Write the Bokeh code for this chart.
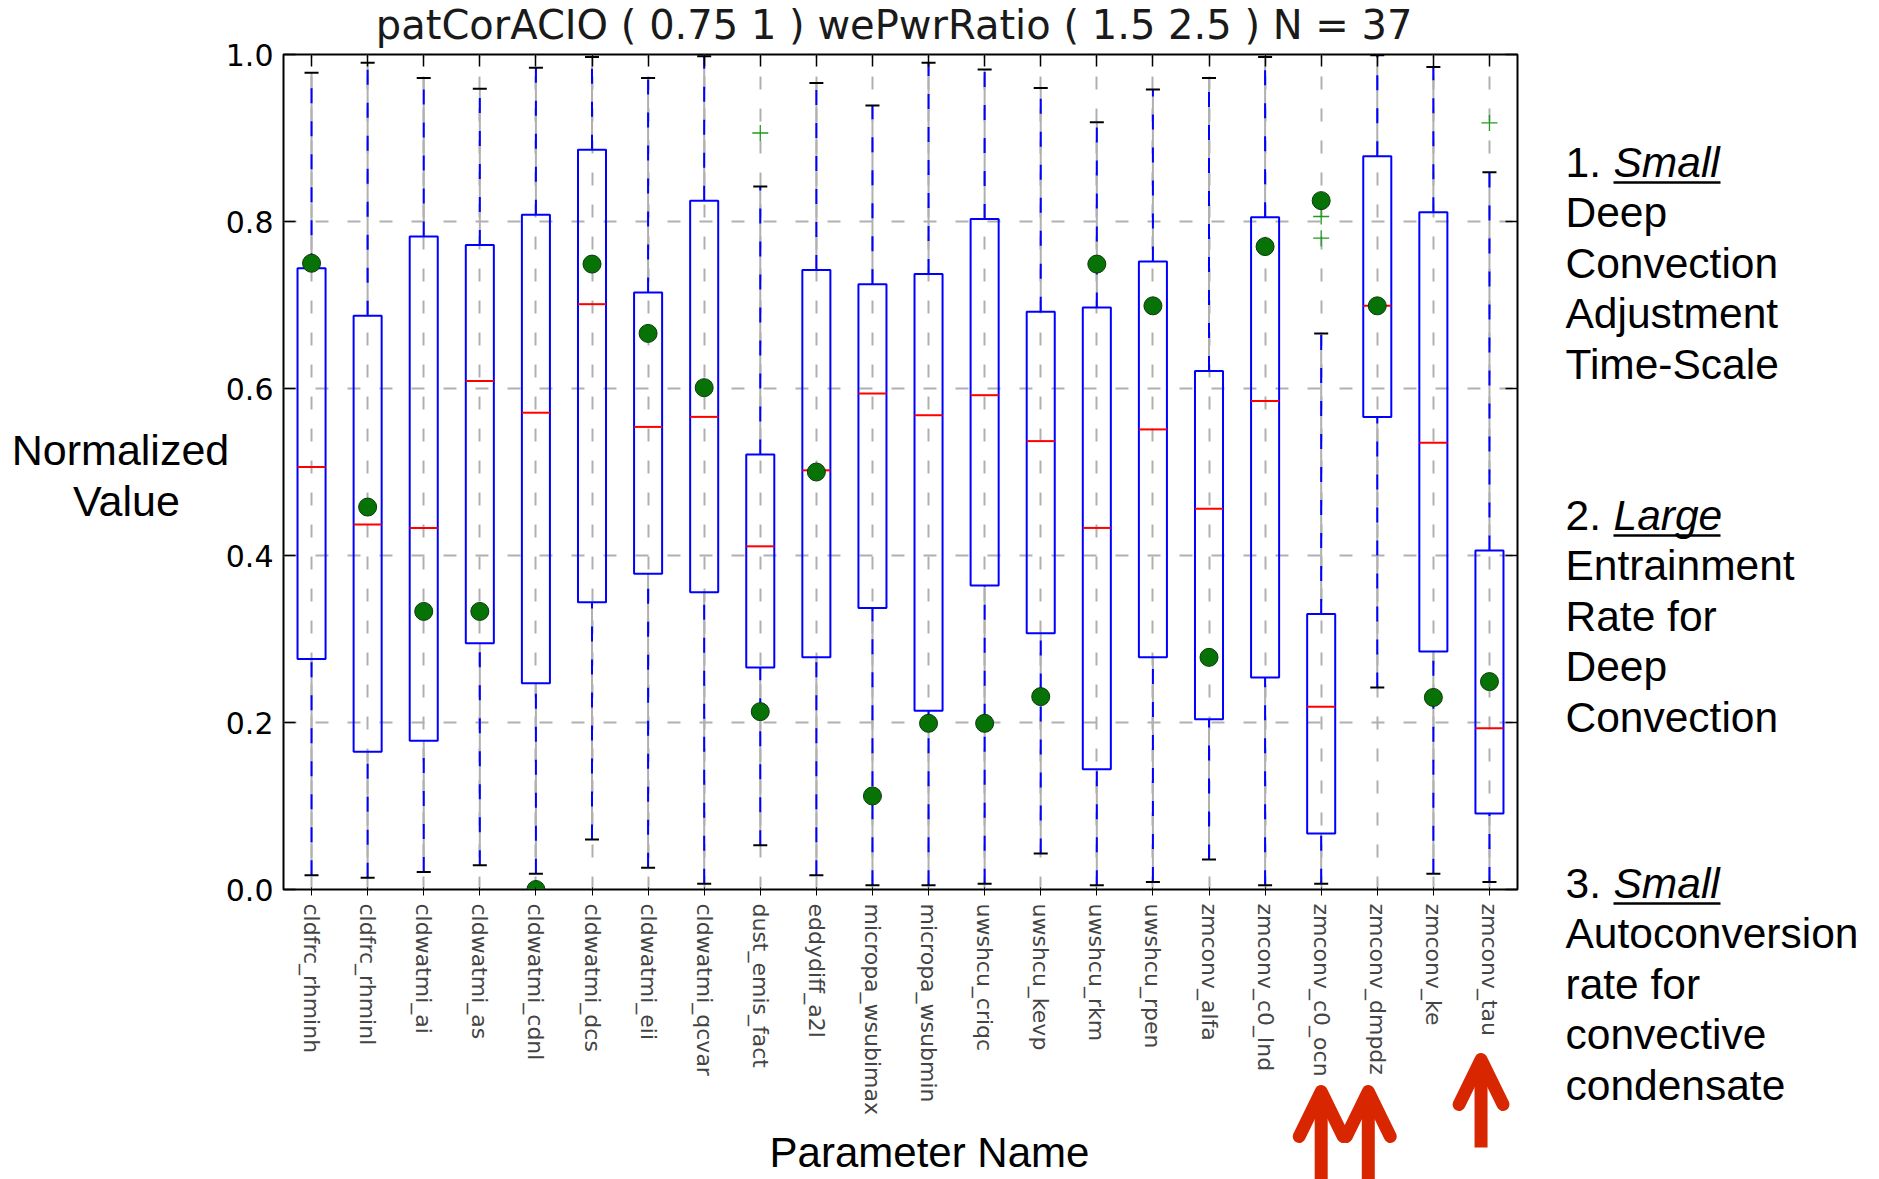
from bokeh.plotting import figure
from bokeh.models import (Range1d, FixedTicker, LinearAxis, PrintfTickFormatter,
                          ColumnDataSource, GridBox, CustomLabelingPolicy)
from bokeh.core.properties import value
from bokeh.embed import file_html
from bokeh.resources import INLINE

# ---- data -----------------------------------------------------------------
params = ["cldfrc_rhminh", "cldfrc_rhminl", "cldwatmi_ai", "cldwatmi_as",
          "cldwatmi_cdnl", "cldwatmi_dcs", "cldwatmi_eii", "cldwatmi_qcvar",
          "dust_emis_fact", "eddydiff_a2l", "micropa_wsubimax", "micropa_wsubmin",
          "uwshcu_criqc", "uwshcu_kevp", "uwshcu_rkm", "uwshcu_rpen",
          "zmconv_alfa", "zmconv_c0_lnd", "zmconv_c0_ocn", "zmconv_dmpdz",
          "zmconv_ke", "zmconv_tau"]

whisker_lo = [0.017, 0.014, 0.021, 0.029, 0.019, 0.060, 0.026, 0.007, 0.053, 0.017, 0.005,
              0.005, 0.007, 0.043, 0.005, 0.009, 0.036, 0.005, 0.007, 0.242, 0.019, 0.009]
q1 = [0.276, 0.165, 0.178, 0.295, 0.247, 0.344, 0.378, 0.356, 0.266, 0.278, 0.337,
      0.214, 0.364, 0.307, 0.144, 0.278, 0.204, 0.254, 0.067, 0.566, 0.285, 0.091]
median = [0.506, 0.437, 0.433, 0.609, 0.571, 0.701, 0.554, 0.566, 0.411, 0.502, 0.594,
          0.568, 0.592, 0.537, 0.433, 0.551, 0.456, 0.585, 0.219, 0.699, 0.535, 0.193]
q3 = [0.744, 0.687, 0.782, 0.772, 0.808, 0.886, 0.715, 0.825, 0.521, 0.742, 0.725,
      0.737, 0.803, 0.692, 0.697, 0.752, 0.621, 0.805, 0.330, 0.878, 0.811, 0.406]
whisker_hi = [0.978, 0.990, 0.972, 0.959, 0.984, 0.997, 0.972, 0.998, 0.842, 0.966, 0.939,
              0.990, 0.982, 0.960, 0.919, 0.958, 0.972, 0.997, 0.666, 0.999, 0.985, 0.859]
# normalized value of the selected member
chosen = [0.750, 0.458, 0.333, 0.333, 0.000, 0.749, 0.666, 0.601, 0.213, 0.500, 0.112,
          0.199, 0.199, 0.231, 0.749, 0.699, 0.278, 0.770, 0.825, 0.699, 0.230, 0.249]
# outliers: (parameter, value)
flier_param = ["dust_emis_fact", "zmconv_c0_ocn", "zmconv_c0_ocn", "zmconv_tau"]
flier_value = [0.906, 0.806, 0.780, 0.918]

y_ticks = [0.0, 0.2, 0.4, 0.6, 0.8, 1.0]

title_text = "patCorACIO ( 0.75 1 )  wePwrRatio ( 1.5 2.5 ) N = 37"
y_title = ["Normalized", "Value"]
x_title = "Parameter Name"
notes = [
    ("1.", "Small", ["Deep", "Convection", "Adjustment", "Time-Scale"]),
    ("2.", "Large", ["Entrainment", "Rate for", "Deep", "Convection"]),
    ("3.", "Small", ["Autoconversion", "rate for", "convective", "condensate"]),
]
highlighted = ["zmconv_c0_ocn", "zmconv_dmpdz", "zmconv_tau"]

# ---- layout constants -----------------------------------------------------
W, H = 1879, 1179
LEFT, RIGHT, TOP, BOTTOM = 283, 362, 54, 290
FW, FH = W - LEFT - RIGHT, H - TOP - BOTTOM
N = len(params)
pos = [i + 1 for i in range(N)]
idx = {name: i + 1 for i, name in enumerate(params)}


def cat_px(x):
    """category coordinate -> canvas pixel"""
    return LEFT + (x - 0.5) * FW / N


# ---- main box-plot figure --------------------------------------------------
p = figure(width=W, height=H, x_range=Range1d(0.5, N + 0.5), y_range=Range1d(0, 1),
           output_backend="svg", toolbar_location=None,
           min_border_left=LEFT, min_border_right=RIGHT,
           min_border_top=TOP, min_border_bottom=BOTTOM)
p.frame_align = False
p.background_fill_color = "white"
p.border_fill_color = "white"
p.outline_line_color = "black"
p.outline_line_width = 2

BOX = 0.25   # half box width
CAP = 0.125  # half cap width
BLUE = "#0000ff"
GRID = "#b0b0b0"

src = ColumnDataSource(dict(
    x=pos, lo=whisker_lo, q1=q1, med=median, q3=q3, hi=whisker_hi, dot=chosen,
    bl=[x - BOX for x in pos], br=[x + BOX for x in pos],
    cl=[x - CAP for x in pos], cr=[x + CAP for x in pos]))

# whiskers: blue dashes over the grey column line
for y0, y1 in [("q3", "hi"), ("lo", "q1")]:
    p.segment(x0="x", y0=y0, x1="x", y1=y1, source=src, line_color=GRID, line_width=2)
    p.segment(x0="x", y0=y0, x1="x", y1=y1, source=src, line_color=BLUE,
              line_width=2, line_dash="15 18")
# caps
p.segment(x0="cl", y0="hi", x1="cr", y1="hi", source=src, line_color="black", line_width=2)
p.segment(x0="cl", y0="lo", x1="cr", y1="lo", source=src, line_color="black", line_width=2)
# boxes
p.quad(left="bl", right="br", bottom="q1", top="q3", source=src,
       fill_alpha=0, line_color=BLUE, line_width=2)
# medians
p.segment(x0="bl", y0="med", x1="br", y1="med", source=src, line_color="#ff0000", line_width=2)
# outliers
p.scatter(x=[idx[n] for n in flier_param], y=flier_value, marker="cross", size=16,
          line_color="#1f9a1f", line_width=1.3)
# chosen member
p.scatter(x="x", y="dot", source=src, size=18, fill_color="#077307",
          line_color="#0a3a0a", line_width=1)

# ---- axes ------------------------------------------------------------------
xt = FixedTicker(ticks=pos)
yt = FixedTicker(ticks=y_ticks)

for ax in p.xaxis:
    ax.ticker = xt
    ax.major_label_overrides = {i + 1: n for i, n in enumerate(params)}
    ax.major_label_orientation = "vertical"
    ax.major_label_text_font = "DejaVu Sans"
    ax.major_label_text_font_size = "22px"
    ax.major_label_standoff = 8
for ax in p.yaxis:
    ax.ticker = yt
    ax.formatter = PrintfTickFormatter(format="%.1f")
    ax.major_label_text_font = "DejaVu Sans"
    ax.major_label_text_font_size = "30px"
    ax.major_label_standoff = 10

# tick-only axes on the top and right edges
no_labels = CustomLabelingPolicy(code="for (const i of indices) { indices.unset(i) }")
top_ax = LinearAxis(ticker=xt, major_label_policy=no_labels)
right_ax = LinearAxis(ticker=yt, major_label_policy=no_labels)
p.add_layout(top_ax, "above")
p.add_layout(right_ax, "right")

for ax in [p.xaxis[0], p.yaxis[0], top_ax, right_ax]:
    ax.axis_line_color = None
    ax.major_tick_in = 12
    ax.major_tick_out = 0
    ax.major_tick_line_color = "black"
    ax.major_tick_line_width = 1.5
    ax.minor_tick_line_color = None
    ax.major_label_text_color = "black"

p.xgrid.ticker = xt
p.ygrid.ticker = yt
for g in [p.xgrid[0], p.ygrid[0]]:
    g.grid_line_color = GRID
    g.grid_line_width = 2
    g.grid_line_dash = "13 19"

# ---- transparent canvas-sized layer for free texts and arrows ---------------
ov = figure(width=W, height=H, x_range=Range1d(0, W), y_range=Range1d(H, 0),
            output_backend="svg", toolbar_location=None, min_border=0,
            x_axis_location=None, y_axis_location=None)
ov.frame_align = False
ov.grid.visible = False
ov.background_fill_color = None
ov.border_fill_color = None
ov.outline_line_color = None

ARIAL = value("Liberation Sans")

# y positions below are the vertical centres of the text lines
ov.text(x=[900], y=[24], text=[title_text], text_align="center",
        text_baseline="alphabetic", text_font=value("DejaVu Sans"),
        text_font_size="40px", text_color="#1a1a1a")
ov.text(x=[120, 126], y=[449, 500], text=y_title, text_align="center",
        text_baseline="alphabetic", text_font=ARIAL, text_font_size="43px",
        text_color="black")
ov.text(x=[929], y=[1152], text=[x_title], text_align="center",
        text_baseline="alphabetic", text_font=ARIAL, text_font_size="42px",
        text_color="black")

NOTE_X = 1565
first_lines = [162, 515, 883]
LINE = 50.4
nx, ny, nt = [], [], []
ix, iy, it = [], [], []
for (num, word, rest), c0 in zip(notes, first_lines):
    nx.append(NOTE_X); ny.append(c0); nt.append(num)
    ix.append(NOTE_X + 48); iy.append(c0); it.append(word)
    for k, t in enumerate(rest):
        nx.append(NOTE_X); ny.append(c0 + (k + 1) * LINE); nt.append(t)
ov.text(x=nx, y=ny, text=nt, text_align="left", text_baseline="alphabetic",
        text_font=ARIAL, text_font_size="42.5px", text_color="black")
ov.text(x=ix, y=iy, text=it, text_align="left", text_baseline="alphabetic",
        text_font=ARIAL, text_font_size="42.5px", text_font_style="italic",
        text_color="black")
ov.segment(x0=ix, y0=[c + 20 for c in iy], x1=[x + 107 for x in ix],
           y1=[c + 20 for c in iy], line_color="black", line_width=2.5)

# red arrows under the highlighted parameters
RED = "#d72600"
arrow_geom = [(0.0, 1091, 1200), (-0.16, 1091, 1200), (-0.15, 1059, 1147)]
ax_, tip_, tail_ = [], [], []
for name, (shift, tip, tail) in zip(highlighted, arrow_geom):
    ax_.append(cat_px(idx[name] + shift)); tip_.append(tip); tail_.append(tail)
ov.segment(x0=ax_, y0=tail_, x1=ax_, y1=[t + 4 for t in tip_], line_color=RED,
           line_width=13)
ov.multi_line(xs=[[x - 22, x, x + 22] for x in ax_],
              ys=[[t + 45, t, t + 45] for t in tip_],
              line_color=RED, line_width=13, line_cap="round", line_join="round")

layout = GridBox(children=[(p, 0, 0), (ov, 0, 0)])

open("out.html", "w").write(file_html(layout, INLINE))
